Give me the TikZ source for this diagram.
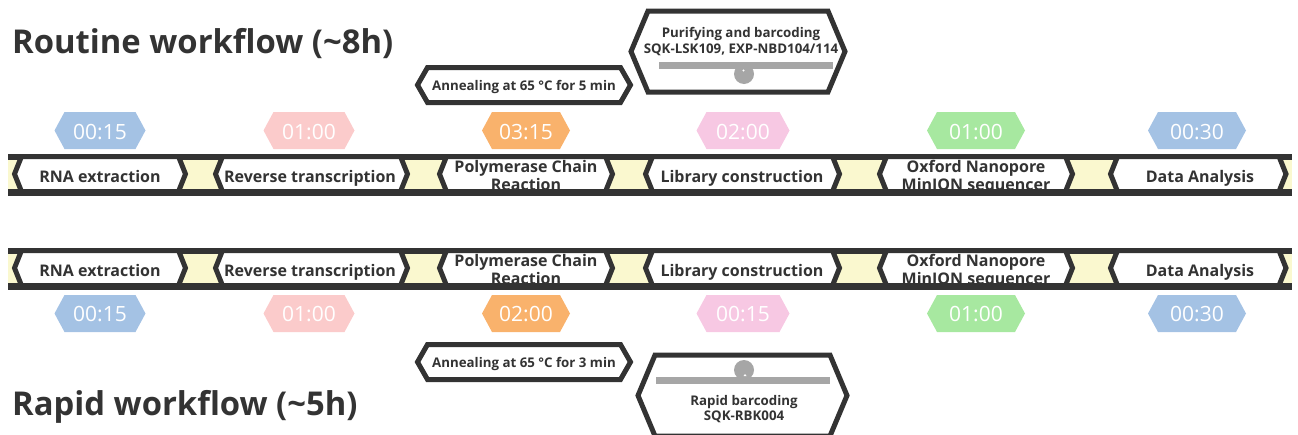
\documentclass[tikz,border=0pt]{standalone}
\usepackage{fontspec}
\setmainfont{Open Sans}
\definecolor{dk}{HTML}{333333}
\definecolor{yl}{HTML}{FAF8CF}
\definecolor{gr}{HTML}{A6A6A6}
\definecolor{cblue}{HTML}{A4C2E4}
\definecolor{cpinka}{HTML}{FBCBCB}
\definecolor{corange}{HTML}{F9B26C}
\definecolor{cpinkb}{HTML}{F7C8E3}
\definecolor{cgreen}{HTML}{A7E8A0}
% hexagon: style, x1, y1, x2, y2, depth
\newcommand\hexshape[6]{\path[#1] (#2,{(#3+#5)/2}) -- ({#2+#6},#3) -- ({#4-#6},#3) -- (#4,{(#3+#5)/2}) -- ({#4-#6},#5) -- ({#2+#6},#5) -- cycle;}
\newcommand\tld{{\char"7E}}
\tikzset{
  boxline/.style={draw=dk, line width=5pt, fill=white, line join=miter},
  lbl/.style={anchor=base, inner sep=0pt, text=dk, font=\bfseries\fontsize{16}{18}\selectfont},
  tm/.style={anchor=base, inner sep=0pt, text=white, font=\fontsize{21}{24}\selectfont},
  small/.style={anchor=base, inner sep=0pt, text=dk, font=\bfseries\fontsize{13.3}{15}\selectfont},
  ttl/.style={anchor=base west, inner sep=0pt, text=dk, font=\bfseries\fontsize{32.8}{38}\selectfont},
}
\newcommand\bandbg[1]{%
  \fill[dk] (8,#1) rectangle (1292,{#1+42});
  \fill[yl] (8,{#1+6}) rectangle (1292,{#1+36});
  \hexshape{boxline}{14.5}{#1+2.5}{185.5}{#1+37.5}{7}
  \hexshape{boxline}{215.5}{#1+2.5}{407.5}{#1+37.5}{7}
  \hexshape{boxline}{439.5}{#1+2.5}{612.5}{#1+37.5}{7}
  \hexshape{boxline}{645.5}{#1+2.5}{839.5}{#1+37.5}{7}
  \hexshape{boxline}{879.5}{#1+2.5}{1072.5}{#1+37.5}{7}
  \hexshape{boxline}{1110.5}{#1+2.5}{1286}{#1+37.5}{7}
}
\newcommand\bandlabels[2]{%
  \node[lbl] (#2rna) at (100,{#1+28}) {RNA extraction};
  \node[lbl] (#2rt) at (310,{#1+28}) {Reverse transcription};
  \node[lbl] (#2pcra) at (526,{#1+18}) {Polymerase Chain};
  \node[lbl] (#2pcrb) at (526,{#1+36}) {Reaction};
  \node[lbl] (#2lib) at (742,{#1+28}) {Library construction};
  \node[lbl] (#2onta) at (976,{#1+18}) {Oxford Nanopore};
  \node[lbl] (#2ontb) at (976,{#1+36}) {MinION sequencer};
  \node[lbl] (#2da) at (1200,{#1+28}) {Data Analysis};
  \fill[dk] (8,{#1+35}) rectangle (1292,{#1+42});
}
\begin{document}
\begin{tikzpicture}[x=1pt,y=-1pt]
\useasboundingbox (0,0) rectangle (1298,434);
% titles
\node[ttl] (t1) at (12,53) {Routine workflow (\tld8h)};
\node[ttl] (t2) at (12,415) {Rapid workflow (\tld5h)};
% bands
\bandbg{154}
\bandlabels{154}{a}
\bandbg{248}
\bandlabels{248}{b}
% badges top
\hexshape{fill=cblue}{54.5}{112}{145.5}{149}{10}
\hexshape{fill=cpinka}{263.5}{112}{354.5}{149}{10}
\hexshape{fill=corange}{482}{112}{570}{149}{10}
\hexshape{fill=cpinkb}{696.5}{112}{789.5}{149}{10}
\hexshape{fill=cgreen}{927}{112}{1025}{149}{10}
\hexshape{fill=cblue}{1148}{112}{1246}{149}{10}
\node[tm] (ta) at (100,139) {00:15};
\node[tm] (tb) at (309,139) {01:00};
\node[tm] (tc) at (526,139) {03:15};
\node[tm] (td) at (743,139) {02:00};
\node[tm] (te) at (976,139) {01:00};
\node[tm] (tf) at (1197,139) {00:30};
% badges bottom
\hexshape{fill=cblue}{54.5}{295}{145.5}{332}{10}
\hexshape{fill=cpinka}{263.5}{295}{354.5}{332}{10}
\hexshape{fill=corange}{482}{295}{570}{332}{10}
\hexshape{fill=cpinkb}{696.5}{295}{789.5}{332}{10}
\hexshape{fill=cgreen}{927}{295}{1025}{332}{10}
\hexshape{fill=cblue}{1148}{295}{1246}{332}{10}
\node[tm] (ba) at (100,321.5) {00:15};
\node[tm] (bb) at (309,321.5) {01:00};
\node[tm] (bc) at (526,321.5) {02:00};
\node[tm] (bd) at (743,321.5) {00:15};
\node[tm] (be) at (976,321.5) {01:00};
\node[tm] (bf) at (1197,321.5) {00:30};
% annealing boxes
\hexshape{boxline}{417.5}{67.5}{630.5}{102.5}{10}
\node[small] (an1) at (524,90) {Annealing at 65 °C for 5 min};
\hexshape{boxline}{417.5}{344.5}{630.5}{379.5}{10}
\node[small] (an2) at (524,367) {Annealing at 65 °C for 3 min};
% purifying box
\hexshape{boxline}{631}{11}{845}{92}{17}
\node[small] (pu1) at (741,37.5) {Purifying and barcoding};
\node[small] (pu2) at (741,53) {SQK-LSK109, EXP-NBD104/114};
\fill[gr] (744,74) circle (10);
\fill[gr] (659,62) rectangle (833,69);
\fill[white] (743.5,70.5) circle (1.2);
% rapid box
\hexshape{boxline}{638}{355}{847}{436}{17}
\fill[gr] (744,370) circle (10);
\fill[gr] (656,377) rectangle (830,384);
\fill[white] (743.5,376) -- (745,374) -- (746.5,376) -- cycle;
\node[small] (ra1) at (744,405) {Rapid barcoding};
\node[small] (ra2) at (744,420) {SQK-RBK004};
\end{tikzpicture}
\end{document}
